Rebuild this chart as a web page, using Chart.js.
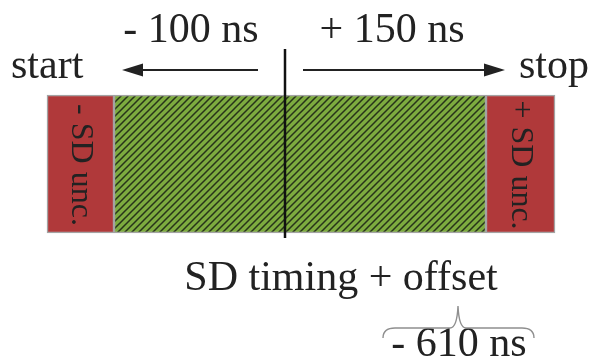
<!DOCTYPE html>
<html>
<head>
<meta charset="utf-8">
<script src="https://cdn.jsdelivr.net/npm/chart.js@4.4.1/dist/chart.umd.min.js"></script>
<style>
  html, body { margin: 0; padding: 0; background: #fff; }
  canvas { display: block; }
</style>
</head>
<body>
<canvas id="c" width="589" height="358"></canvas>
<script>
// Schematic timing window (diagram units, 0 = SD timing + offset)
const rows = ['window']
const leftUnc = [[-238, -171]]
const window_ = [[-171, 201]]
const rightUnc = [[201, 270]]
const leftArrow = [-27, -163]
const rightArrow = [18, 220]
const labels = {
  before: '- 100 ns',
  after: '+ 150 ns',
  start: 'start',
  stop: 'stop',
  leftBox: '- SD unc.',
  rightBox: '+ SD unc.',
  centre: 'SD timing + offset',
  offset: '- 610 ns'
}

const SERIF = '"Liberation Serif", "DejaVu Serif", serif'
const INK = '#222'

// Green fill with dark diagonal hatching
function hatch() {
  const s = 7
  const c = document.createElement('canvas')
  c.width = s; c.height = s
  const g = c.getContext('2d')
  g.fillStyle = '#7dab3f'
  g.fillRect(0, 0, s, s)
  g.strokeStyle = '#27331a'
  g.lineWidth = 1.5
  g.beginPath()
  g.moveTo(-1, s + 1); g.lineTo(s + 1, -1)
  g.moveTo(-1, 1); g.lineTo(1, -1)
  g.moveTo(s - 1, s + 1); g.lineTo(s + 1, s - 1)
  g.stroke()
  return document.getElementById('c').getContext('2d').createPattern(c, 'repeat')
}

function arrow(ctx, x0, x1, y) {
  const dir = Math.sign(x1 - x0)
  const head = 21
  ctx.beginPath()
  ctx.moveTo(x0, y)
  ctx.lineTo(x1 - dir * head * 0.8, y)
  ctx.lineWidth = 2
  ctx.strokeStyle = INK
  ctx.stroke()
  ctx.beginPath()
  ctx.moveTo(x1, y)
  ctx.lineTo(x1 - dir * head, y - 6.5)
  ctx.lineTo(x1 - dir * head, y + 6.5)
  ctx.closePath()
  ctx.fillStyle = INK
  ctx.fill()
}

const annotations = {
  id: 'annotations',
  afterDatasetsDraw(chart) {
    const ctx = chart.ctx
    const x = chart.scales.x
    ctx.save()

    // zero line
    const x0 = x.getPixelForValue(0)
    ctx.beginPath()
    ctx.moveTo(x0, 49)
    ctx.lineTo(x0, 238)
    ctx.lineWidth = 2.5
    ctx.strokeStyle = '#111'
    ctx.stroke()

    arrow(ctx, x.getPixelForValue(leftArrow[0]), x.getPixelForValue(leftArrow[1]), 70)
    arrow(ctx, x.getPixelForValue(rightArrow[0]), x.getPixelForValue(rightArrow[1]), 70)

    ctx.fillStyle = INK
    ctx.font = '42px ' + SERIF
    ctx.textBaseline = 'alphabetic'
    ctx.textAlign = 'center'
    ctx.fillText(labels.before, 191, 42)
    ctx.fillText(labels.after, 392, 42)
    ctx.textAlign = 'left'
    ctx.fillText(labels.start, 11, 78)
    ctx.fillText(labels.stop, 519, 78)
    ctx.textAlign = 'center'
    ctx.fillText(labels.centre, 341, 290)
    ctx.fillText(labels.offset, 459, 356)

    // rotated labels in the uncertainty boxes
    ctx.font = '32px ' + SERIF
    ctx.textBaseline = 'middle'
    const boxes = [[leftUnc[0], labels.leftBox], [rightUnc[0], labels.rightBox]]
    for (const [b, t] of boxes) {
      const cx = (x.getPixelForValue(b[0]) + x.getPixelForValue(b[1])) / 2
      ctx.save()
      ctx.translate(cx, 165)
      ctx.rotate(Math.PI / 2)
      ctx.fillText(t, 0, 0)
      ctx.restore()
    }

    // brace over the offset
    const l = 383, r = 534, m = 458, yb = 328
    ctx.beginPath()
    ctx.moveTo(l, 338)
    ctx.quadraticCurveTo(l, yb, l + 12, yb)
    ctx.lineTo(m - 8, yb)
    ctx.quadraticCurveTo(m - 1, yb, m, 306)
    ctx.quadraticCurveTo(m + 1, yb, m + 8, yb)
    ctx.lineTo(r - 12, yb)
    ctx.quadraticCurveTo(r, yb, r, 338)
    ctx.lineWidth = 1.4
    ctx.strokeStyle = '#8f8f8f'
    ctx.stroke()

    ctx.restore()
  }
}

const red = '#b0393a'
const edge = '#a3a3a3'

new Chart(document.getElementById('c'), {
  type: 'bar',
  data: {
    labels: rows,
    datasets: [
      { data: leftUnc, backgroundColor: red, borderColor: edge, borderWidth: 1.5, grouped: false, borderSkipped: false },
      { data: window_, backgroundColor: hatch(), borderColor: edge, borderWidth: 1.5, grouped: false, borderSkipped: false },
      { data: rightUnc, backgroundColor: red, borderColor: edge, borderWidth: 1.5, grouped: false, borderSkipped: false }
    ]
  },
  options: {
    indexAxis: 'y',
    responsive: false,
    animation: false,
    devicePixelRatio: 1,
    layout: { padding: { top: 0, bottom: 30, left: 0, right: 0 } },
    datasets: { bar: { barThickness: 138 } },
    scales: {
      x: { type: 'linear', min: -285, max: 304, display: false },
      y: { display: false }
    },
    plugins: { legend: { display: false }, tooltip: { enabled: false } }
  },
  plugins: [annotations]
})
</script>
</body>
</html>
